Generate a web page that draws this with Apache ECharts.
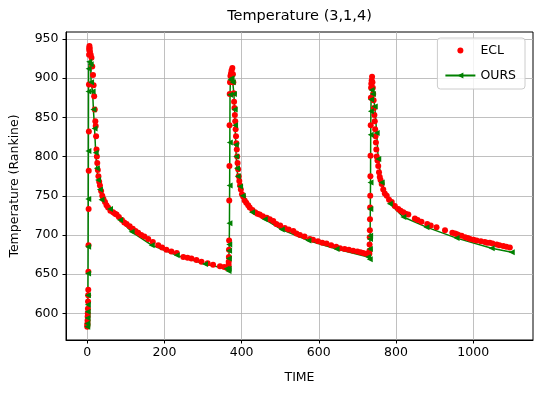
<!DOCTYPE html>
<html>
<head>
<meta charset="utf-8">
<script src="https://cdn.jsdelivr.net/npm/echarts@6/dist/echarts.min.js"></script>
<style>html,body{margin:0;padding:0;background:#fff}#c{width:540px;height:393px}</style>
</head>
<body>
<div id="c"></div>
<script>
var titleText = 'Temperature (3,1,4)';
var xName = 'TIME';
var yName = 'Temperature (Rankine)';
var seriesNames = ['ECL', 'OURS'];
var xTicks = [0, 200, 400, 600, 800, 1000];
var yTicks = [600, 650, 700, 750, 800, 850, 900, 950];

var eclTime = [0,0.3,0.6,0.9,1.2,1.5,1.8,2.1,2.4,2.7,3.0,3.3,3.6,3.9,4.2,4.5,4.8,5.1,5.4,5.8,6.3,7,9,11,13,15,16.5,18,19.5,21,22,23,24,25,26,27.5,29,31,33,36,39,42,46,50,54,60,67,72,76,82,90,96,102,110,118,125,132,140,148,158,170,184,194,205,218,232,249,260,270,283,296,312,326,344,355,362,
366,366.3,366.6,367,367.3,367.6,368,368.4,368.8,369.2,370,371,372.5,374,376,377.5,378.5,379.5,380.5,381.5,382.5,383.5,384.5,385.5,386.5,387.5,388.5,389.5,391,392.5,394,396,398,401,404,408,412,417,421,428,435,441,447,455,465,473,482,490,500,512,522,534,542,551,563,577,585,598,609,620,632,645,655,667,678,689,700,708,715,722,726,
731,731.3,731.6,732,732.3,732.6,733,733.3,733.7,734,734.5,735,735.5,736,737,738,739,740,741,742,743,744,745,746,747,748,749,750,752,754,756,758,760,763,767,771,776,782,789,797,806,812,819,825,832,849,856,866,881,890,905,927,946,953,958,962,970,979,986,992,1001,1009,1020,1030,1036,1043,1050,1061,1068,1078,1086,1095];
var eclTemp = [583,585,587,591,596,600,606,615,623,630,653,687,733,782,832,892,930,936,939,941,938,934,930,926,915,904,891,877,860,845,839,826,809,800,792,783,775,768,763,756,750,746,742,738,735,731,729,727,726,723,719,716,714,711,708,705,703,700,698,695,691,687,684,681,679,677,672,671,670,668,666,664,662,660,659,658,
659,662,666,672,681,693,744,788,840,880,895,903,906,910,913,905,895,881,870,862,853,845,835,826,817,809,800,792,784,775,769,763,758,752,749,744,741,738,735,732,729,727,726,724,722,720,718,714,712,709,707,705,702,700,698,695,694,692,690,689,687,685,683,682,681,680,679,678,677,676,676,
676,680,688,697,706,720,735,750,775,801,840,875,888,893,897,902,895,888,880,872,862,853,845,835,826,818,809,800,795,788,780,774,770,765,758,753,750,745,742,737,733,731,729,727,726,721,719,717,714,712,710,706,703,702,701,700,699,697,696,695,694,693,692,691,690,690,689,688,687,686,685,684];

var oursTime = [0,0.4,0.8,1.2,1.5,1.8,2.1,2.4,2.7,3.0,3.3,3.7,5,9,10,14,16,19,22,25,28,33,37,59,85,115,167,232,305,361,366,
366.5,367,367.5,368,368.5,369,369.5,370,371,374,377,380,382,383,385,386,388,390,396,403,427,460,504,573,646,728,732,
732.3,732.6,733,733.5,734,734.5,735,735.5,737,740,745,750,754,763,784,819,879,957,1048,1100];
var oursTemp = [583,587,594,602,611,623,651,685,746,807,883,912,921,918,895,883,860,836,805,785,770,758,745,733,719,704,687,674,663,657,654,
657,670,680,688,715,763,818,879,898,900,895,880,860,840,815,800,785,775,762,750,729,720,707,693,682,672,669,
682,695,699,733,767,828,858,873,885,880,864,830,797,767,740,723,710,696,683,678];

function pairs(a, b) { return a.map(function (t, i) { return [t, b[i]]; }); }
function plain(v) { return String(v); }

var FONT = 'DejaVu Sans';
var chart = echarts.init(document.getElementById('c'), null, {renderer: 'canvas'});
chart.setOption({
  animation: false,
  backgroundColor: '#ffffff',
  title: {
    text: titleText, left: 294.5, top: 4, textAlign: 'center',
    textStyle: {fontFamily: FONT, fontSize: 14.5, fontWeight: 'normal', color: '#000'}
  },
  grid: {left: 66, right: 7, top: 32, bottom: 53, show: true, borderColor: '#000', borderWidth: 1, backgroundColor: 'transparent'},
  legend: {
    orient: 'vertical', right: 15, top: 38,
    itemWidth: 30, itemHeight: 7.5, itemGap: 12, textGap: 10,
    padding: [6, 9, 7, 7],
    backgroundColor: 'rgba(255,255,255,0.8)', borderColor: '#cccccc', borderWidth: 1, borderRadius: 3,
    textStyle: {fontFamily: FONT, fontSize: 12.5, color: '#000'},
    data: [
      {name: seriesNames[0], lineStyle: {opacity: 0, width: 0}},
      {name: seriesNames[1]}
    ]
  },
  xAxis: {
    type: 'value', min: -55, max: 1155,
    name: xName, nameLocation: 'middle', nameGap: 31,
    nameTextStyle: {fontFamily: FONT, fontSize: 12.5, color: '#000'},
    axisLine: {show: true, onZero: false, lineStyle: {color: '#000', width: 1}},
    axisTick: {show: true, length: 3.5, lineStyle: {color: '#000'}, customValues: xTicks},
    axisLabel: {fontFamily: FONT, fontSize: 12.5, color: '#000', margin: 6, customValues: xTicks, formatter: plain},
    splitLine: {show: true, lineStyle: {color: '#b0b0b0', width: 0.8}}
  },
  yAxis: {
    type: 'value', min: 566, max: 959,
    name: yName, nameLocation: 'middle', nameGap: 45,
    nameTextStyle: {fontFamily: FONT, fontSize: 12.5, color: '#000'},
    axisLine: {show: true, onZero: false, lineStyle: {color: '#000', width: 1}},
    axisTick: {show: true, length: 3.5, lineStyle: {color: '#000'}, customValues: yTicks},
    axisLabel: {fontFamily: FONT, fontSize: 12.5, color: '#000', margin: 7.5, customValues: yTicks, formatter: plain},
    splitLine: {show: true, lineStyle: {color: '#b0b0b0', width: 0.8}}
  },
  series: [
    {
      name: seriesNames[0], type: 'line', data: pairs(eclTime, eclTemp),
      symbol: 'circle', symbolSize: 6, showSymbol: true,
      lineStyle: {width: 0, opacity: 0},
      itemStyle: {color: '#ff0000'}, emphasis: {disabled: true}
    },
    {
      name: seriesNames[1], type: 'line', data: pairs(oursTime, oursTemp),
      symbol: 'triangle', symbolRotate: 90, symbolSize: 6, showSymbol: true,
      lineStyle: {width: 1.5, color: '#008000'},
      itemStyle: {color: '#008000'}, emphasis: {disabled: true}
    }
  ]
});
</script>
</body>
</html>
